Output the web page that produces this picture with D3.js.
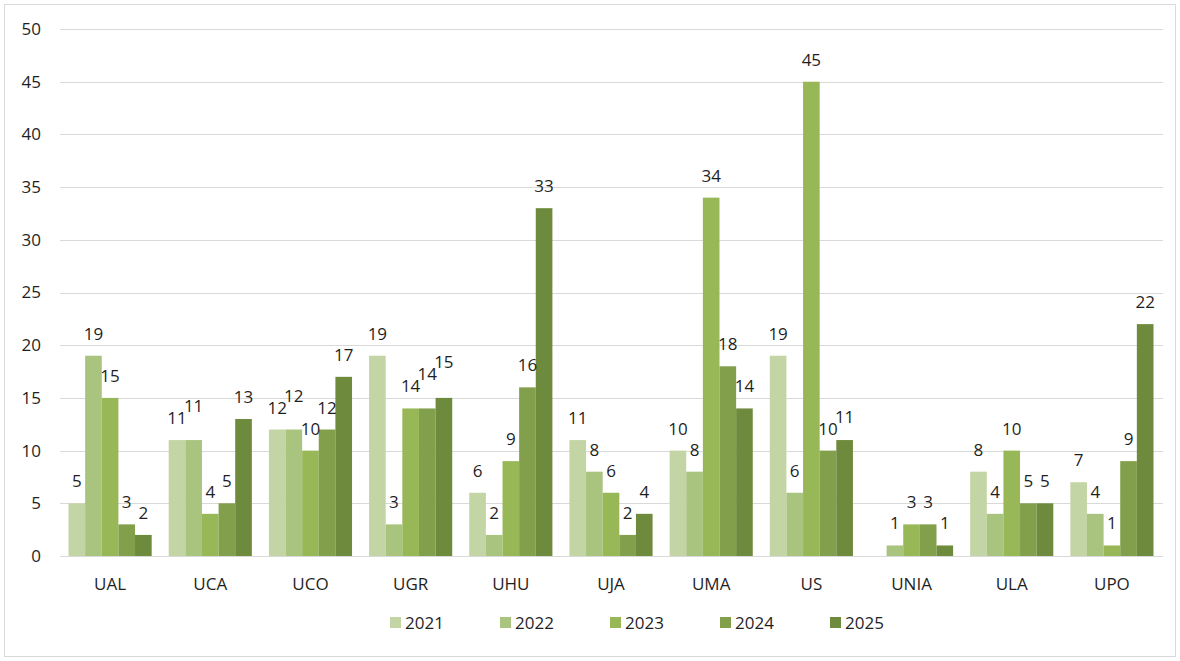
<!DOCTYPE html>
<html><head><meta charset="utf-8">
<script src="https://cdn.jsdelivr.net/npm/d3@7"></script>
<style>body{margin:0;background:#fff}svg{display:block}text{font-family:"Open Sans","Noto Sans",sans-serif;fill:#1f1f1f}</style>
</head><body><svg id="c" width="1180" height="661"></svg>
<script>
const categories = ["UAL","UCA","UCO","UGR","UHU","UJA","UMA","US","UNIA","ULA","UPO"];
const years = ["2021","2022","2023","2024","2025"];
const v2021 = [5,11,12,19,6,11,10,19,null,8,7];
const v2022 = [19,11,12,3,2,8,8,6,1,4,4];
const v2023 = [15,4,10,14,9,6,34,45,3,10,1];
const v2024 = [3,5,12,14,16,2,18,10,3,5,9];
const v2025 = [2,13,17,15,33,4,14,11,1,5,22];
const yTicks = [0,5,10,15,20,25,30,35,40,45,50];
const colors = ["#c3d5a4","#a9c47f","#98b858","#829f4b","#6e8a3c"];
const series = [v2021,v2022,v2023,v2024,v2025];
const FONT = '"Open Sans","Noto Sans",sans-serif';
const FS = 17;

const svg = d3.select("#c");
svg.append("rect").attr("x",4.5).attr("y",4.5).attr("width",1171).attr("height",652).attr("fill","#fff").attr("stroke","#d9d9d9");

const x = d3.scaleBand().domain(categories).range([60,1162]).paddingInner(0.17).paddingOuter(0.085);
const xs = d3.scaleBand().domain(years).range([0,x.bandwidth()]);
const y = d3.scaleLinear().domain([0,50]).range([556,29]);

svg.append("g").selectAll("line").data(yTicks).join("line")
  .attr("x1",60).attr("x2",1163).attr("y1",d=>Math.round(y(d))+0.5).attr("y2",d=>Math.round(y(d))+0.5)
  .attr("stroke","#d9d9d9").attr("stroke-width",1);

const ya = svg.append("g").attr("transform","translate(60,0)")
  .call(d3.axisLeft(y).tickValues(yTicks).tickSize(0).tickPadding(19));
ya.select(".domain").remove();
ya.selectAll("text").attr("font-size",FS).attr("font-family",FONT).attr("fill","#1f1f1f");

const xa = svg.append("g").attr("transform","translate(0,556)")
  .call(d3.axisBottom(x).tickSize(0).tickPadding(22));
xa.select(".domain").remove();
xa.selectAll("text").attr("font-size",FS).attr("font-family",FONT).attr("fill","#1f1f1f");

const groups = svg.append("g").selectAll("g").data(categories).join("g")
  .attr("transform",d=>`translate(${x(d)},0)`);
years.forEach((yr,si)=>{
  groups.each(function(c,i){
    const v = series[si][i];
    if(v==null) return;
    d3.select(this).append("rect").attr("x",xs(yr)).attr("width",xs.bandwidth())
      .attr("y",y(v)).attr("height",y(0)-y(v)).attr("fill",colors[si]);
  });
});
// data labels, nudged upward when they would collide with a neighbour (as the spreadsheet does)
const CAP = 12;
groups.each(function(c,i){
  const g = d3.select(this);
  const placed = [];
  years.forEach((yr,si)=>{
    const v = series[si][i];
    if(v==null) return;
    const cx = xs(yr)+xs.bandwidth()/2;
    const t = g.append("text").attr("x",cx).attr("text-anchor","middle").attr("font-size",FS).text(v);
    const w = t.node().getComputedTextLength();
    let base = y(v)-16;
    let moved = true;
    while(moved){
      moved = false;
      for(const p of placed){
        const hOv = Math.min(cx+w/2,p.cx+p.w/2) - Math.max(cx-w/2,p.cx-p.w/2);
        const vOv = Math.min(base,p.base) - Math.max(base-CAP,p.base-CAP);
        if(hOv>0.5 && vOv>0){ base = p.base-CAP; moved = true; }
      }
    }
    t.attr("y",base);
    placed.push({cx,w,base});
  });
});

const lg = svg.append("g").selectAll("g").data(years).join("g")
  .attr("transform",(d,i)=>`translate(${390+i*110},622)`);
lg.append("rect").attr("x",0).attr("y",-5).attr("width",11).attr("height",11).attr("fill",(d,i)=>colors[i]);
lg.append("text").attr("x",15).attr("y",6.5).attr("font-size",FS).text(d=>d);
</script></body></html>
